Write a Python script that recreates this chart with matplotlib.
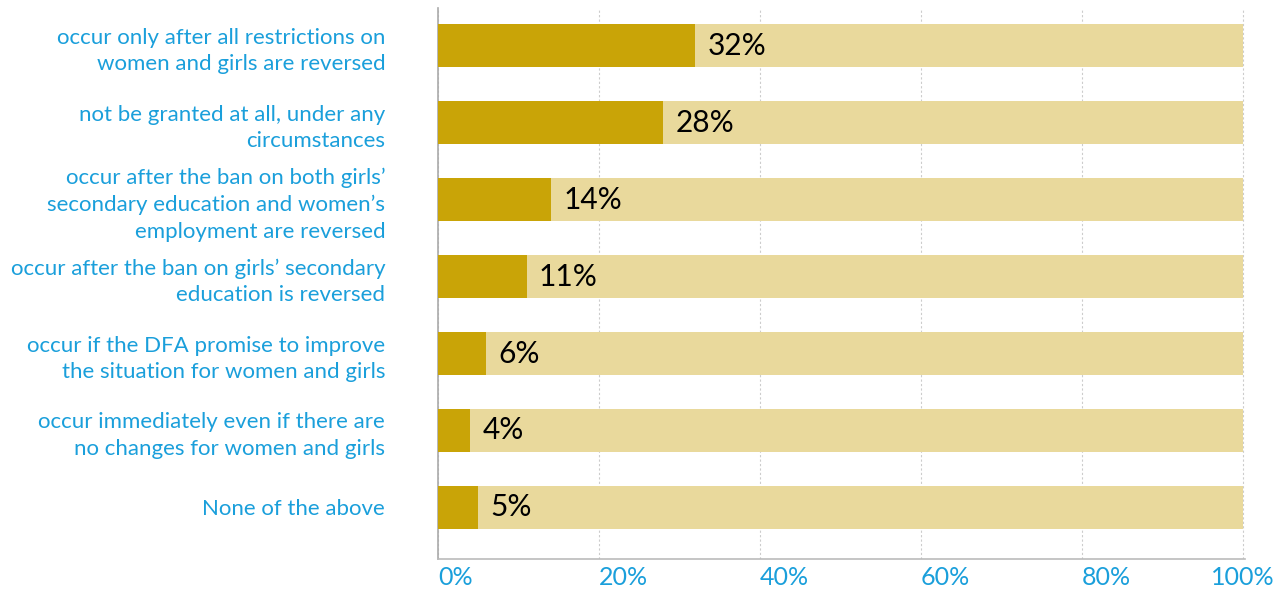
import matplotlib.pyplot as plt
import numpy as np

plt.rcParams["font.family"] = ["Lato", "DejaVu Sans"]

labels = [
    "occur only after all restrictions on\nwomen and girls are reversed",
    "not be granted at all, under any\ncircumstances",
    "occur after the ban on both girls\u2019\nsecondary education and women\u2019s\nemployment are reversed",
    "occur after the ban on girls\u2019 secondary\neducation is reversed",
    "occur if the DFA promise to improve\nthe situation for women and girls",
    "occur immediately even if there are\nno changes for women and girls",
    "None of the above",
]
values = [32, 28, 14, 11, 6, 4, 5]
ticks = [0, 20, 40, 60, 80, 100]

dark = "#C9A407"
light = "#E9D99C"
blue = "#1A9FDB"

fig = plt.figure(figsize=(12.74, 5.97), dpi=100)
ax = fig.add_axes([0.3438, 0.0637, 0.6334, 0.9229])

y = np.arange(len(labels))
ax.barh(y, [100] * len(y), height=0.56, color=light, zorder=2)
ax.barh(y, values, height=0.56, color=dark, zorder=3)
for yi, v in zip(y, values):
    ax.annotate(f"{v}%", (v, yi), xytext=(9, 0), textcoords="offset points",
                va="center", ha="left", fontsize=21.5, color="black", zorder=4)

ax.set_xlim(0, 100.3)
ax.set_ylim(6.67, -0.49)
ax.set_yticks(y)
ax.set_yticklabels(labels, color=blue, fontsize=16, linespacing=1.4)
ax.set_xticks(ticks)
ax.set_xticklabels([f"{t}%" for t in ticks], color=blue, fontsize=18)
for lab in ax.get_xticklabels()[:-1]:
    lab.set_ha("left")
ax.tick_params(axis="y", length=0, pad=38)
ax.tick_params(axis="x", length=0, pad=5)

ax.grid(axis="x", color="#CCCCCC", linestyle=(0, (2, 2)), linewidth=0.8, zorder=1)
ax.grid(axis="y", visible=False)
for s in ["top", "right"]:
    ax.spines[s].set_visible(False)
ax.spines["left"].set_color("#AAAAAA")
ax.spines["bottom"].set_color("#BBBBBB")
ax.spines["left"].set_linewidth(1.2)
ax.spines["bottom"].set_linewidth(1.2)

fig.savefig("out.png", dpi=100)
